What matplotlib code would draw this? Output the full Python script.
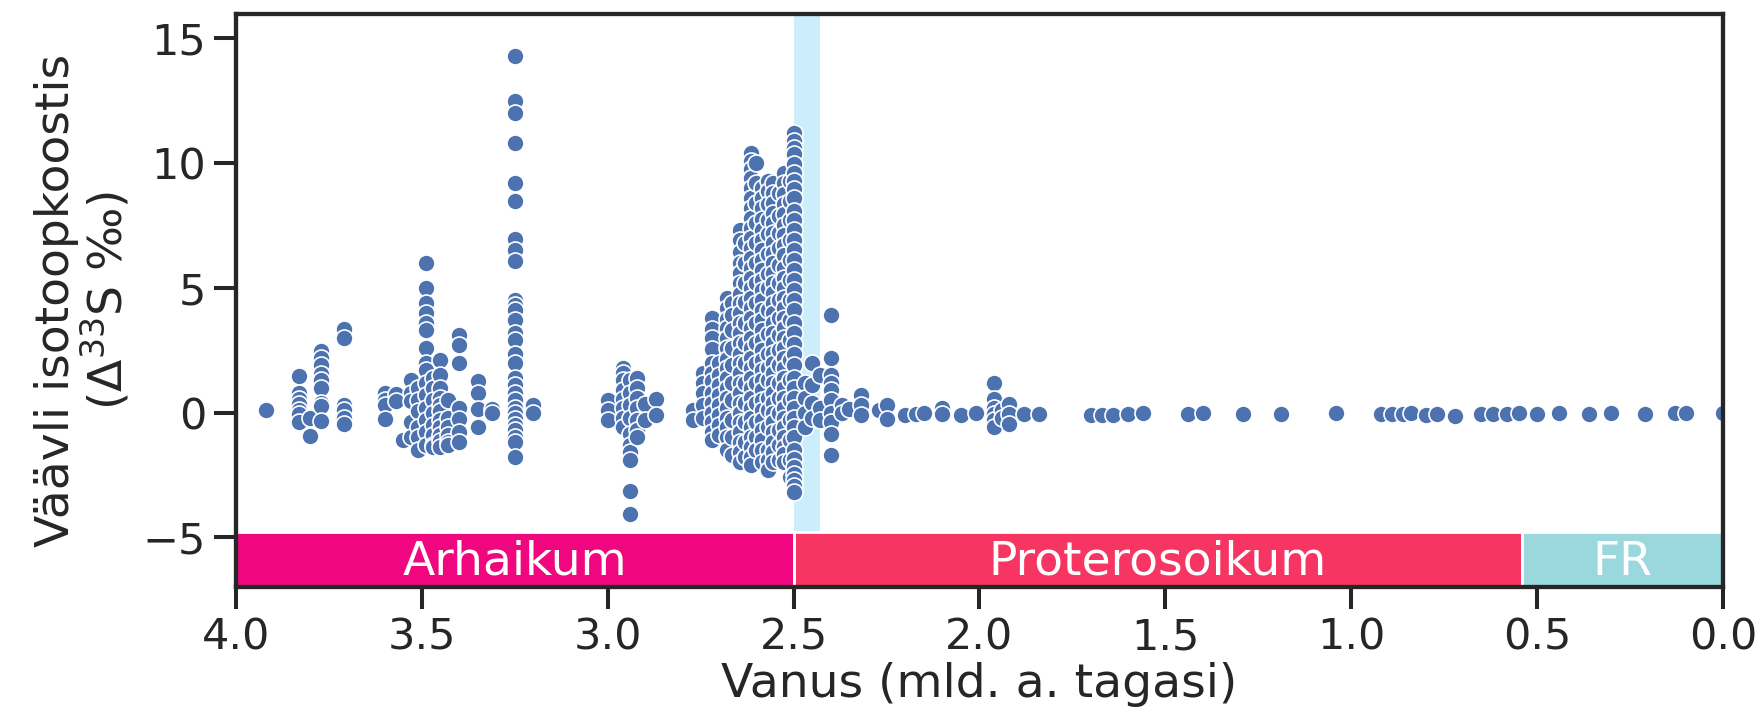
import matplotlib
matplotlib.use("Agg")
import matplotlib.pyplot as plt

# ---------------- data (age in Ga, Δ33S in ‰) ----------------
cols_paleoarchean = [
    (3.92, [0.1]),
    (3.83, [1.45, 0.8, 0.55, 0.35, 0.1, -0.05, -0.4]),
    (3.80, [-0.2, -0.95]),
    (3.77, [2.45, 2.2, 1.9, 1.55, 1.3, 1.0, 0.4, 0.25, -0.35]),
    (3.71, [3.35, 3.0, 0.3, 0.1, -0.2, -0.45]),
    (3.60, [0.8, 0.5, 0.3, -0.25]),
    (3.57, [0.75, 0.45]),
    (3.55, [-1.1]),
    (3.53, [1.3, 0.8, 0.45, -0.4, -1.0]),
    (3.51, [1.0, 0.5, 0.05, -0.6, -1.0, -1.5]),
    (3.49, [6.0, 5.0, 4.4, 4.0, 3.6, 3.3, 2.6, 2.0, 1.7, 1.2, 0.7, 0.2, -0.3, -0.8, -1.3]),
    (3.47, [1.4, 1.0, 0.5, 0.0, -0.5, -0.9, -1.3, -1.4]),
    (3.45, [2.1, 1.5, 1.0, 0.6, 0.3, 0.05, -0.3, -0.6, -0.9, -1.15, -1.4]),
    (3.43, [0.5, -0.2, -0.6, -0.9, -1.2, -1.3]),
    (3.40, [3.1, 2.7, 2.0, 0.2, -0.25, -0.8, -1.2]),
    (3.35, [1.25, 0.8, 0.15, -0.6]),
    (3.31, [0.15, 0.0]),
    (3.25, [14.3, 12.5, 12.0, 10.8, 9.2, 8.5, 6.95, 6.5, 6.08, 4.5, 4.3, 4.1, 3.7, 3.2,
            2.9, 2.35, 2.0, 1.4, 1.1, 0.8, 0.5, 0.2, 0.0, -0.25, -0.5, -0.72, -1.0, -1.2, -1.8]),
    (3.20, [0.3, 0.0]),
]

cols_mesoarchean = [
    (3.00, [0.5, 0.1, -0.3]),
    (2.96, [1.8, 1.6, 1.3, 0.9, 0.55, 0.2, -0.2, -0.6]),
    (2.94, [1.3, 0.8, 0.3, -0.2, -0.85, -1.3, -1.6, -1.9, -3.15, -4.05]),
    (2.92, [1.4, 1.0, 0.6, 0.2, -0.3, -0.7, -1.0]),
    (2.90, [0.35, -0.3]),
    (2.87, [0.55, -0.1]),
]

cols_neoarchean = [
    (2.77, [0.1, -0.3]),
    (2.745, [1.6, 1.2, 0.8, 0.3, -0.2]),
    (2.72, [3.8, 3.35, 3.0, 2.55, 2.0, 1.6, 1.25, 0.8, 0.4, 0.0, -0.4, -0.8, -1.1]),
    (2.70, [2.0, 1.5, 1.1, 0.7, 0.3, -0.1, -0.5, -0.9]),
    (2.68, [4.6, 4.2, 3.75, 3.4, 3.0, 2.6, 2.15, 1.8, 1.4, 1.0, 0.6, 0.2, -0.2, -0.6, -1.0, -1.5]),
    (2.665, [4.4, 3.9, 3.3, 2.6, 1.9, 1.2, 0.5, -0.3, -1.0, -1.7]),
    (2.645, [7.3, 6.9, 6.45, 6.0, 5.6, 5.2, 4.75, 4.4, 4.0, 3.6, 3.2, 2.8, 2.35, 2.0, 1.6,
             1.2, 0.8, 0.4, 0.0, -0.4, -0.8, -1.2, -1.6, -2.0]),
    (2.63, [6.8, 6.0, 5.2, 4.45, 3.6, 2.8, 2.0, 1.2, 0.4, -0.4, -1.2, -1.8]),
    (2.615, [10.4, 10.1, 9.75, 9.4, 9.0, 8.6, 8.2, 7.8, 7.4, 7.0, 6.6, 6.2, 5.8, 5.4, 5.0,
             4.6, 4.2, 3.8, 3.4, 3.0, 2.6, 2.2, 1.8, 1.4, 1.0, 0.6, 0.2, -0.2, -0.6, -1.0,
             -1.4, -1.8, -2.1]),
    (2.60, [10.0, 9.2, 8.4, 7.6, 6.8, 6.0, 5.2, 4.4, 3.6, 2.8, 2.0, 1.2, 0.4, -0.4, -1.0, -1.5]),
    (2.585, [9.0, 8.6, 8.2, 7.75, 7.3, 6.9, 6.5, 6.1, 5.7, 5.3, 4.9, 4.5, 4.1, 3.7, 3.3,
             2.9, 2.5, 2.1, 1.7, 1.3, 0.9, 0.5, 0.1, -0.3, -0.7, -1.1, -1.5, -2.0]),
    (2.57, [9.3, 8.9, 8.35, 7.7, 7.15, 6.35, 5.55, 5.0, 4.1, 3.15, 2.35, 1.8, 1.3, 0.6, 0.1,
            -0.6, -1.5, -1.9, -2.3]),
    (2.555, [9.2, 8.8, 8.4, 8.0, 7.6, 7.2, 6.8, 6.4, 6.0, 5.6, 5.2, 4.8, 4.4, 4.0, 3.6, 3.2,
             2.8, 2.4, 2.0, 1.6, 1.2, 0.8, 0.4, 0.0, -0.4, -0.8, -1.2, -1.6, -2.0]),
    (2.54, [8.8, 7.9, 7.2, 6.6, 5.9, 5.2, 4.5, 3.8, 3.1, 2.5, 1.9, 1.2, 0.6, 0.0, -0.7,
            -1.3, -1.9]),
    (2.525, [9.6, 9.2, 8.75, 8.35, 7.95, 7.5, 7.1, 6.7, 6.3, 5.8, 5.4, 5.0, 4.6, 4.2, 3.8,
             3.4, 3.0, 2.6, 2.2, 1.8, 1.4, 1.0, 0.6, 0.2, -0.2, -0.6, -1.0, -1.4, -1.65, -2.0]),
    (2.51, [9.3, 8.5, 7.7, 6.9, 6.1, 5.3, 4.5, 3.7, 2.9, 2.1, 1.3, 0.5, -0.3, -1.1, -1.9, -2.6]),
    (2.50, [11.2, 10.9, 10.6, 10.35, 9.95, 9.6, 9.3, 8.95, 8.6, 8.1, 7.7, 7.3, 6.9, 6.5,
            6.1, 5.7, 5.3, 4.9, 4.5, 4.1, 3.6, 3.2, 2.75, 2.35, 1.9, 1.4, 1.0, 0.6, 0.2,
            -0.2, -0.6, -1.0, -1.5, -1.85, -2.2, -2.45, -2.7, -2.95, -3.2]),
]

cols_proterozoic = [
    (2.47, [1.2, 0.6, 0.0, -0.6]),
    (2.45, [2.0, 1.1, 0.4, -0.2]),
    (2.43, [1.5, 0.2, -0.3]),
    (2.40, [3.9, 2.2, 1.5, 1.2, 0.9, 0.5, 0.0, -0.4, -0.85, -1.7]),
    (2.37, [0.3, 0.0]),
    (2.35, [0.15]),
    (2.32, [0.7, 0.3, -0.1]),
    (2.27, [0.1]),
    (2.25, [0.3, -0.25]),
    (2.20, [-0.1]),
    (2.17, [-0.05]),
    (2.15, [0.0]),
    (2.10, [0.2, -0.05]),
    (2.05, [-0.1]),
    (2.01, [0.0]),
    (1.96, [1.2, 0.55, 0.2, -0.05, -0.3, -0.6]),
    (1.94, [0.1, -0.2]),
    (1.92, [0.35, -0.05, -0.45]),
    (1.88, [-0.05]),
    (1.84, [-0.05]),
    (1.70, [-0.1]),
    (1.67, [-0.1]),
    (1.64, [-0.1]),
    (1.60, [-0.05]),
    (1.56, [0.0]),
    (1.44, [-0.05]),
    (1.40, [0.0]),
    (1.29, [-0.05]),
    (1.19, [-0.05]),
    (1.04, [0.0]),
    (0.92, [-0.05]),
    (0.89, [-0.05]),
    (0.86, [-0.05]),
    (0.84, [0.0]),
    (0.80, [-0.1]),
    (0.77, [-0.05]),
    (0.72, [-0.15]),
    (0.65, [-0.05]),
    (0.62, [-0.05]),
    (0.58, [-0.05]),
]

cols_phanerozoic = [
    (0.55, [0.0]),
    (0.50, [-0.05]),
    (0.44, [0.0]),
    (0.36, [-0.05]),
    (0.30, [0.0]),
    (0.21, [-0.05]),
    (0.13, [0.0]),
    (0.10, [0.0]),
    (0.00, [0.0]),
]

era_names = ["Arhaikum", "Proterosoikum", "FR"]
era_start = [4.0, 2.5, 0.541]
era_end = [2.5, 0.541, 0.0]
era_colors = ["#F0077F", "#F73563", "#9AD8DE"]

goe_span = (2.5, 2.43)

xticks = [4.0, 3.5, 3.0, 2.5, 2.0, 1.5, 1.0, 0.5, 0.0]
yticks = [-5, 0, 5, 10, 15]

# ---------------- plot ----------------
TXT = "#262626"
plt.rcParams["font.family"] = ["DejaVu Sans"]

fig = plt.figure(figsize=(17.65, 7.23), dpi=100)
ax = fig.add_axes([0.1337, 0.188, 0.8425, 0.7933])

ymin, ymax = -7, 16
bar_top = -4.8

ages, vals = [], []
for cols in (cols_paleoarchean, cols_mesoarchean, cols_neoarchean,
             cols_proterozoic, cols_phanerozoic):
    for a, vs in cols:
        for v in vs:
            ages.append(a)
            vals.append(v)

ax.axvspan(goe_span[0], goe_span[1], ymin=(bar_top - ymin) / (ymax - ymin), ymax=1,
           color="#CCEEFC", lw=0, zorder=1)

ax.scatter(ages, vals, s=150, c="#4C72B0", edgecolors="white", linewidths=1.2, zorder=3)

for name, s, e, c in zip(era_names, era_start, era_end, era_colors):
    ax.bar((s + e) / 2, bar_top - ymin, width=(s - e), bottom=ymin, color=c,
           edgecolor="white", linewidth=2, zorder=4)
    ax.text((s + e) / 2, (ymin + bar_top) / 2 - 0.1, name, color="white", fontsize=34,
            ha="center", va="center", zorder=5)

ax.set_xlim(4.0, 0.0)
ax.set_ylim(ymin, ymax)
ax.set_xticks(xticks)
ax.set_xticklabels([f"{t:.1f}" for t in xticks])
ax.set_yticks(yticks)

for sp in ax.spines.values():
    sp.set_linewidth(3.1)
    sp.set_color(TXT)
    sp.set_zorder(6)

ax.tick_params(axis="both", which="major", length=15.5, width=2.9, color=TXT,
               labelsize=31, labelcolor=TXT, pad=6)

ax.set_xlabel("Vanus (mld. a. tagasi)", fontsize=34, color=TXT, labelpad=2)
ax.set_ylabel("Väävli isotoopkoostis\n($\\Delta^{33}$S ‰)", fontsize=34, color=TXT,
              labelpad=8, linespacing=1.0)

fig.savefig("out.png", dpi=100)
